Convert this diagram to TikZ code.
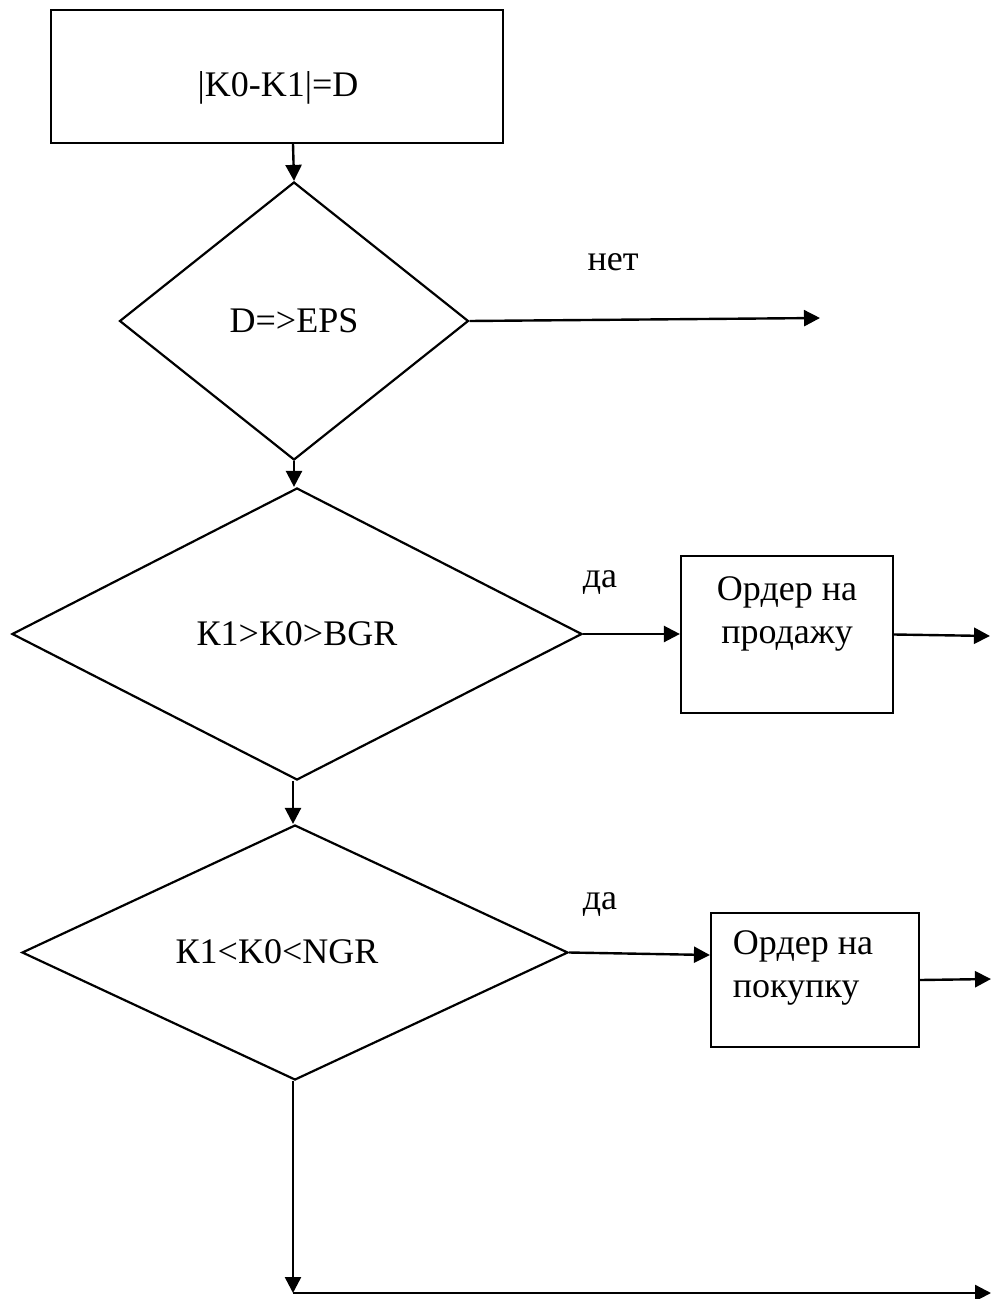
\documentclass[tikz,border=0pt]{standalone}
\usepackage{fontspec}
\setmainfont{Liberation Serif}
\usetikzlibrary{shapes.geometric,arrows.meta}
\tikzset{
  blk/.style={draw, line width=1.1pt, inner sep=0pt},
  cond/.style={draw, line width=1.1pt, shape=diamond, inner sep=0pt},
  flow/.style={line width=1.2pt, -{Triangle[length=8pt,width=8pt]}},
  txt/.style={inner sep=0pt, align=center},
}
\begin{document}
\begin{tikzpicture}[x=0.5pt, y=-0.5pt, font=\fontsize{18}{21.5}\selectfont]
  \useasboundingbox (0,0) rectangle (992,1299);

  % blocks and conditions
  \node [blk, minimum width=226pt, minimum height=66.5pt] (start) at (277,76.5) {};
  \node [txt] (starttxt) at (278,88) {|K0-K1|=D};
  \node [cond, minimum width=174.5pt, minimum height=139pt] (eps) at (294,321) {D=>EPS};
  \node [cond, minimum width=285pt, minimum height=146pt] (bgr) at (297,634) {К1>K0>BGR};
  \node [cond, minimum width=273pt, minimum height=127.5pt] (ngr) at (295,952.5) {};
  \node [txt] (ngrtxt) at (277,952) {К1<K0<NGR};
  \node [blk, minimum width=106pt, minimum height=78.5pt] (sell) at (787,634.5) {};
  \node [txt] (selltxt) at (787,614) {Ордер на\\продажу};
  \node [blk, minimum width=104pt, minimum height=67pt] (buy) at (815,980) {};
  \node [txt, align=left] (buytxt) at (803,968) {Ордер на\\покупку};

  % free ends
  \coordinate (noend) at (820,318);
  \coordinate (sellend) at (990,636);
  \coordinate (buyend) at (991,979);
  \coordinate (corner) at (293,1293);
  \coordinate (lastend) at (991,1293);

  % connectors
  \draw [flow] (start.south -| 293,0) -- (eps.north);
  \draw [flow] (eps.east) -- (noend);
  \draw [flow] (eps.south) -- (bgr.north -| eps.south);
  \draw [flow] (bgr.east) -- (sell.west |- bgr.east);
  \draw [flow] (sell.east) -- (sellend);
  \draw [flow] (bgr.south -| 293,0) -- (ngr.north -| 293,0);
  \draw [flow] (ngr.east) -- ([yshift=12.5pt]buy.west);
  \draw [flow] (buy.east) -- (buyend);
  \draw [flow] (ngr.south -| 293,0) -- (corner);
  \draw [flow] (corner) -- (lastend);

  % labels
  \node [txt] (no) at (613,262) {нет};
  \node [txt] (yes1) at (600,583) {да};
  \node [txt] (yes2) at (600,905) {да};
\end{tikzpicture}
\end{document}
